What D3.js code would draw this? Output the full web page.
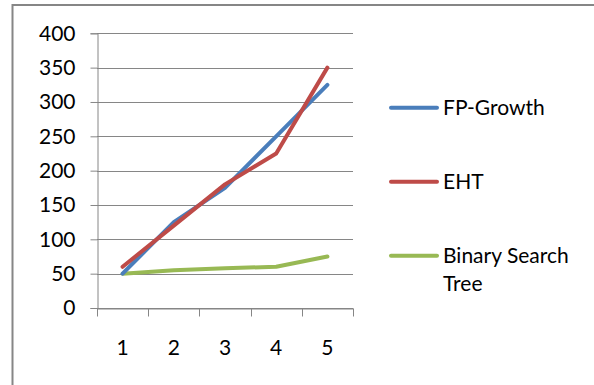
<!DOCTYPE html>
<html><head><meta charset="utf-8">
<script src="https://cdn.jsdelivr.net/npm/d3@7"></script>
<style>html,body{margin:0;padding:0;background:#fff;}svg{display:block;}</style>
</head><body>
<svg id="chart" width="594" height="385"></svg>
<script>
const categories = [1, 2, 3, 4, 5];
const fpGrowth = [50, 125, 175, 250, 325];
const eht = [60, 120, 180, 225, 350];
const bst = [50, 55, 58, 60, 75];
const yTicks = [0, 50, 100, 150, 200, 250, 300, 350, 400];
const seriesNames = ["FP-Growth", "EHT", "Binary Search Tree"];
const seriesColors = ["#4A7EBB", "#BE4B48", "#98B954"];

const svg = d3.select("#chart");
const font = "Lato, 'Open Sans', sans-serif";
const fs = 21;

// outer frame (partially visible)
svg.append("line").attr("x1", 12.5).attr("x2", 12.5).attr("y1", 4).attr("y2", 385)
  .attr("stroke", "#868686").attr("stroke-width", 2);
svg.append("line").attr("x1", 12).attr("x2", 594).attr("y1", 5).attr("y2", 5)
  .attr("stroke", "#868686").attr("stroke-width", 2);

const pLeft = 97, pRight = 353, pTop = 33.3, pBottom = 308;
const x = d3.scaleBand().domain(categories).range([pLeft, pRight]);
const y = d3.scaleLinear().domain([0, 400]).range([pBottom, pTop]);

// gridlines
svg.append("g").selectAll("line").data(yTicks).join("line")
  .attr("x1", pLeft).attr("x2", pRight)
  .attr("y1", d => Math.round(y(d)) + 0.5).attr("y2", d => Math.round(y(d)) + 0.5)
  .attr("stroke", "#868686").attr("stroke-width", 1);

// y axis
const yAxis = svg.append("g").attr("transform", `translate(${pLeft + 0.5},0)`)
  .call(d3.axisLeft(y).tickValues(yTicks).tickSize(7).tickPadding(15).tickFormat(d3.format("d")));
yAxis.select(".domain").attr("stroke", "#868686");
yAxis.selectAll(".tick line").attr("stroke", "#868686");
yAxis.selectAll("text").attr("font-family", font).attr("font-size", fs).attr("fill", "#000");

// x axis
const xAxis = svg.append("g").attr("transform", `translate(0,${Math.round(pBottom) + 0.5})`)
  .call(d3.axisBottom(x).tickSize(0).tickPadding(32));
xAxis.select(".domain").attr("stroke", "#868686");
xAxis.selectAll("text").attr("font-family", font).attr("font-size", fs).attr("fill", "#000");
// boundary ticks
const bounds = categories.map(c => x(c)).concat([pRight]);
xAxis.selectAll(".bt").data(bounds).join("line").attr("class", "bt")
  .attr("x1", d => Math.round(d) + 0.5).attr("x2", d => Math.round(d) + 0.5)
  .attr("y1", 0).attr("y2", 8).attr("stroke", "#868686");

// lines
const allSeries = [fpGrowth, eht, bst];
const line = d3.line().x((d, i) => x(categories[i]) + x.bandwidth() / 2).y(d => y(d));
[2, 0, 1].forEach(k => {
  svg.append("path").datum(allSeries[k]).attr("d", line)
    .attr("fill", "none").attr("stroke", seriesColors[k]).attr("stroke-width", 4)
    .attr("stroke-linejoin", "round").attr("stroke-linecap", "round");
});

// legend
const legendY = [107.7, 181.7, 255.7];
seriesNames.forEach((name, i) => {
  svg.append("line").attr("x1", 391).attr("x2", 437).attr("y1", legendY[i]).attr("y2", legendY[i])
    .attr("stroke", seriesColors[i]).attr("stroke-width", 4).attr("stroke-linecap", "round");
  const words = name === "Binary Search Tree" ? ["Binary Search", "Tree"] : [name];
  words.forEach((w, j) => {
    svg.append("text").attr("x", 443).attr("y", legendY[i] + j * 27.5)
      .attr("dy", "0.35em").attr("font-family", font).attr("font-size", fs).attr("fill", "#000").text(w);
  });
});
</script>
</body></html>
